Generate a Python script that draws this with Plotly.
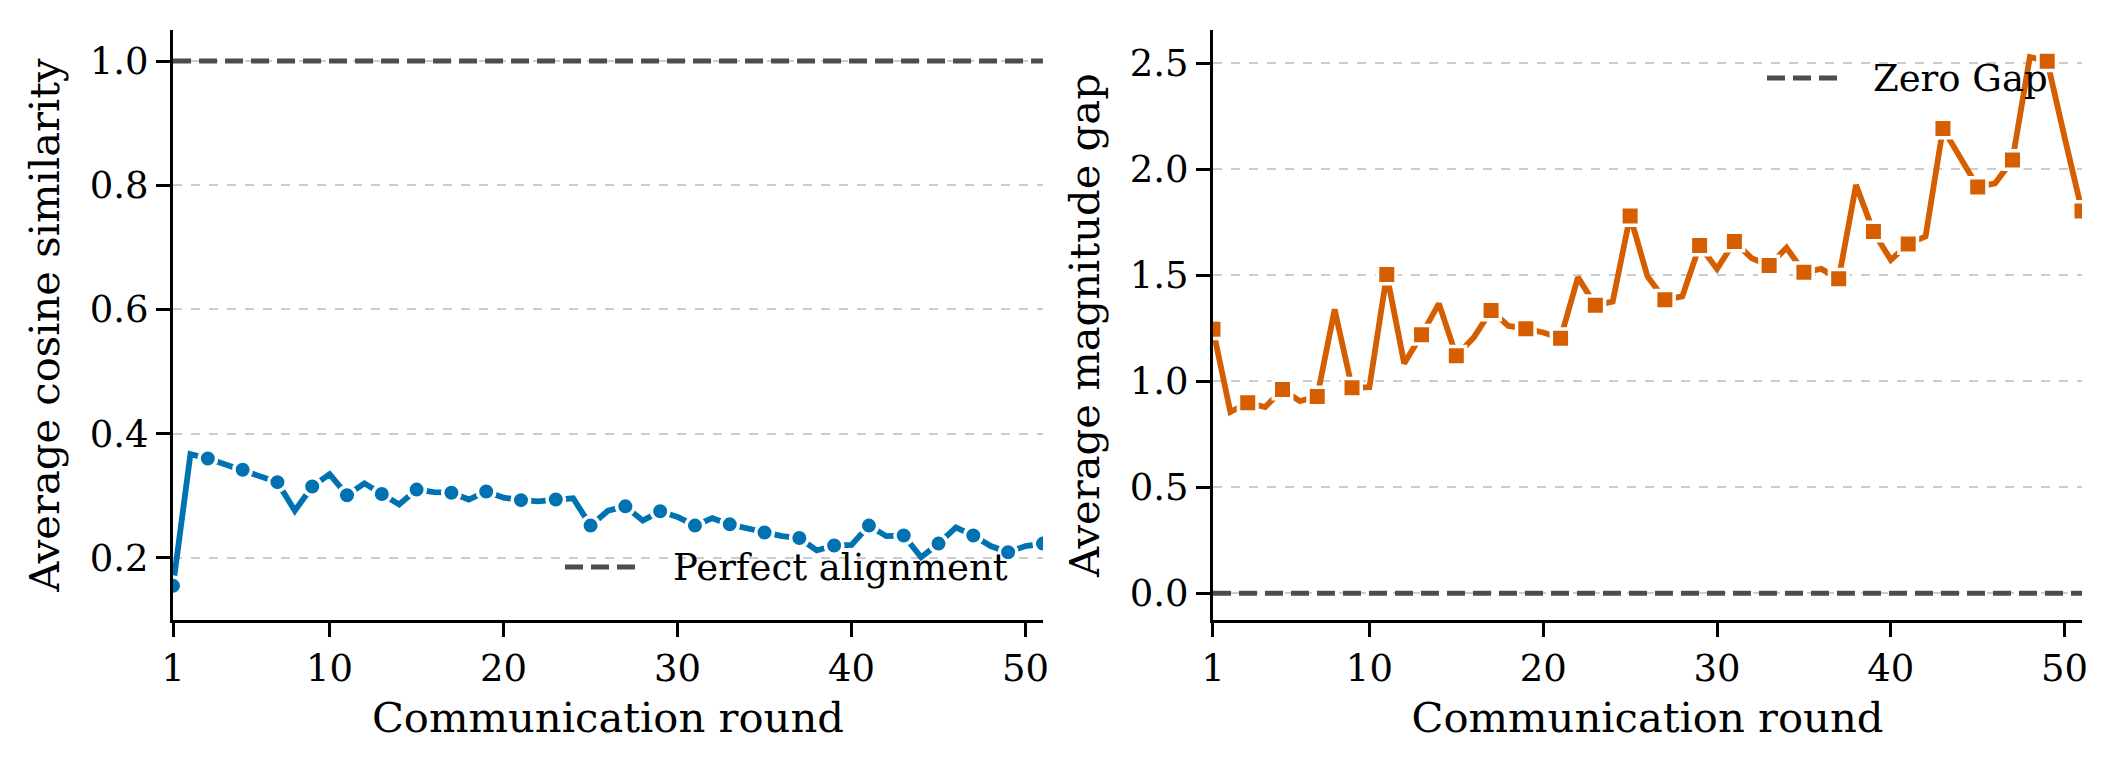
import plotly.graph_objects as go

rounds = list(range(1, 52))
cos_sim = [0.155, 0.367, 0.360, 0.351, 0.342, 0.333, 0.322, 0.276, 0.315, 0.335,
           0.301, 0.320, 0.303, 0.286, 0.310, 0.306, 0.305, 0.294, 0.307, 0.297,
           0.293, 0.291, 0.294, 0.296, 0.252, 0.276, 0.283, 0.260, 0.275, 0.266,
           0.252, 0.264, 0.254, 0.247, 0.241, 0.235, 0.232, 0.212, 0.220, 0.221,
           0.252, 0.235, 0.236, 0.201, 0.223, 0.249, 0.236, 0.219, 0.209, 0.219,
           0.223]
mag_gap = [1.245, 0.855, 0.898, 0.878, 0.961, 0.906, 0.928, 1.339, 0.969, 0.972,
           1.503, 1.084, 1.219, 1.366, 1.120, 1.206, 1.334, 1.261, 1.248, 1.230,
           1.203, 1.491, 1.358, 1.376, 1.780, 1.494, 1.384, 1.400, 1.640, 1.530,
           1.659, 1.580, 1.546, 1.630, 1.514, 1.530, 1.483, 1.926, 1.706, 1.572,
           1.648, 1.683, 2.193, 2.060, 1.917, 1.934, 2.044, 2.530, 2.510, 2.150,
           1.803]
x_ticks = [1, 10, 20, 30, 40, 50]
cos_ref = 1.0
gap_ref = 0.0
left_yticks = [0.2, 0.4, 0.6, 0.8, 1.0]
right_yticks = [0.0, 0.5, 1.0, 1.5, 2.0, 2.5]

BLUE = "#0072B2"
ORANGE = "#D55E00"
GREY = "#4d4d4d"
FONT = "DejaVu Serif"

fig = go.Figure()

# reference lines
fig.add_trace(go.Scatter(x=[rounds[0], rounds[-1]], y=[cos_ref, cos_ref], mode="lines",
                         line=dict(color=GREY, width=5, dash="18px,8px"),
                         xaxis="x", yaxis="y", showlegend=False, hoverinfo="skip"))
fig.add_trace(go.Scatter(x=[rounds[0], rounds[-1]], y=[gap_ref, gap_ref], mode="lines",
                         line=dict(color=GREY, width=5, dash="18px,8px"),
                         xaxis="x2", yaxis="y2", showlegend=False, hoverinfo="skip"))

# data lines
fig.add_trace(go.Scatter(x=rounds, y=cos_sim, mode="lines",
                         line=dict(color=BLUE, width=5.8),
                         xaxis="x", yaxis="y", showlegend=False))
fig.add_trace(go.Scatter(x=rounds[::2], y=cos_sim[::2], mode="markers",
                         marker=dict(color=BLUE, size=17.5, symbol="circle",
                                     line=dict(color="white", width=3.5)),
                         xaxis="x", yaxis="y", showlegend=False))
fig.add_trace(go.Scatter(x=rounds, y=mag_gap, mode="lines",
                         line=dict(color=ORANGE, width=5.8),
                         xaxis="x2", yaxis="y2", showlegend=False))
fig.add_trace(go.Scatter(x=rounds[::2], y=mag_gap[::2], mode="markers",
                         marker=dict(color=ORANGE, size=18.5, symbol="square",
                                     line=dict(color="white", width=3.5)),
                         xaxis="x2", yaxis="y2", showlegend=False))

axis_common = dict(
    showline=True, linecolor="black", linewidth=3,
    ticks="outside", ticklen=14, tickwidth=3, tickcolor="black",
    tickfont=dict(family=FONT, size=37, color="black"),
    zeroline=False, mirror=False, automargin=False,
)

y_dom = [0.1948, 0.961]
fig.update_layout(
    width=2118, height=770,
    margin=dict(l=0, r=0, t=0, b=0),
    paper_bgcolor="white", plot_bgcolor="white",
    font=dict(family=FONT, color="black"),
    xaxis=dict(domain=[0.0817, 0.4924], range=[1, 51], tickvals=x_ticks,
               showgrid=False, anchor="y",
               title=dict(text="Communication round", font=dict(family=FONT, size=41.7), standoff=14),
               **axis_common),
    yaxis=dict(domain=y_dom, range=[0.1, 1.05], tickvals=left_yticks,
               tickformat=".1f", showgrid=True, gridcolor="#cccccc", gridwidth=1.5,
               griddash="dash", anchor="x",
               title=dict(text="Average cosine similarity", font=dict(family=FONT, size=41.7), standoff=18),
               **axis_common),
    xaxis2=dict(domain=[0.5727, 0.9830], range=[1, 51], tickvals=x_ticks,
                showgrid=False, anchor="y2",
                title=dict(text="Communication round", font=dict(family=FONT, size=41.7), standoff=14),
                **axis_common),
    yaxis2=dict(domain=y_dom, range=[-0.1265, 2.657], tickvals=right_yticks,
                tickformat=".1f", showgrid=True, gridcolor="#cccccc", gridwidth=1.5,
                griddash="dash", anchor="x2",
                title=dict(text="Average magnitude gap", font=dict(family=FONT, size=41.7), standoff=18),
                **axis_common),
)

# legends (drawn as legend handles + text in axis-domain coordinates)
legends = [
    ("x domain", "y domain", 0.4506, 0.531, 0.5724, 0.0898, "Perfect alignment"),
    ("x2 domain", "y2 domain", 0.6375, 0.7215, 0.757, 0.9186, "Zero Gap"),
]
for xr, yr, h0, h1, tx, ty, label in legends:
    fig.add_shape(type="line", xref=xr, yref=yr, x0=h0, x1=h1, y0=ty, y1=ty,
                  line=dict(color=GREY, width=5, dash="18px,8px"))
    fig.add_annotation(xref=xr, yref=yr, x=tx, y=ty, text=label, showarrow=False,
                       xanchor="left", yanchor="middle",
                       font=dict(family=FONT, size=37, color="black"))

fig.write_html("out.html")
